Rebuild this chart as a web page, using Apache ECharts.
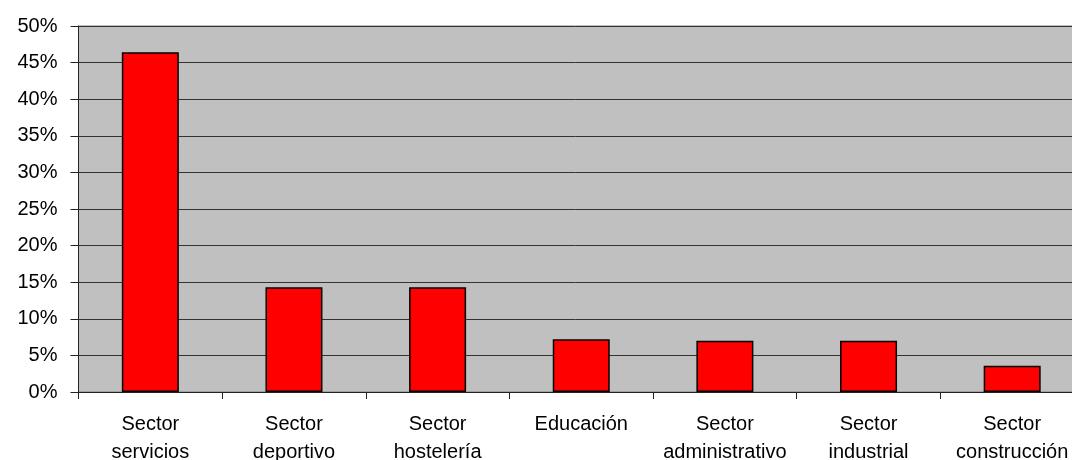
<!DOCTYPE html>
<html>
<head>
<meta charset="utf-8">
<script src="https://cdn.jsdelivr.net/npm/echarts@6/dist/echarts.min.js"></script>
<style>html,body{margin:0;padding:0;background:#fff;}#c{width:1072px;height:460px;}</style>
</head>
<body>
<div id="c"></div>
<script>
var categories = ["Sector\nservicios", "Sector\ndeportivo", "Sector\nhostelería", "Educación", "Sector\nadministrativo", "Sector\nindustrial", "Sector\nconstrucción"];
var values = [46.4, 14.3, 14.3, 7.2, 7.0, 7.0, 3.6];
var yTicks = [0, 5, 10, 15, 20, 25, 30, 35, 40, 45, 50];

var chart = echarts.init(document.getElementById('c'), null, {renderer: 'canvas'});
chart.setOption({
  animation: false,
  backgroundColor: '#ffffff',
  grid: {left: 78.5, right: -12, top: 26, bottom: 68, containLabel: false, outerBoundsMode: 'none', show: true, backgroundColor: '#c0c0c0', borderColor: '#808080', borderWidth: 1},
  xAxis: {
    type: 'category',
    data: categories,
    axisLine: {show: true, lineStyle: {color: '#222', width: 1}},
    axisTick: {show: true, alignWithLabel: false, length: 7, lineStyle: {color: '#222'}},
    axisLabel: {color: '#000', fontFamily: 'Liberation Sans, Arial, sans-serif', fontSize: 20, lineHeight: 28, margin: 18, interval: 0, hideOverlap: false}
  },
  yAxis: {
    type: 'value',
    min: yTicks[0],
    max: yTicks[yTicks.length - 1],
    interval: 5,
    axisLine: {show: true, lineStyle: {color: '#222', width: 1}},
    axisTick: {show: true, length: 8, inside: false, lineStyle: {color: '#222'}},
    splitLine: {show: true, lineStyle: {color: '#333', width: 1}},
    axisLabel: {color: '#000', fontFamily: 'Liberation Sans, Arial, sans-serif', fontSize: 20, margin: 21, formatter: function (v) { return v + '%'; }}
  },
  series: [{
    type: 'bar',
    data: values,
    barWidth: 57,
    itemStyle: {color: '#ff0000', borderColor: '#000', borderWidth: 1.5}
  }]
});
</script>
</body>
</html>
